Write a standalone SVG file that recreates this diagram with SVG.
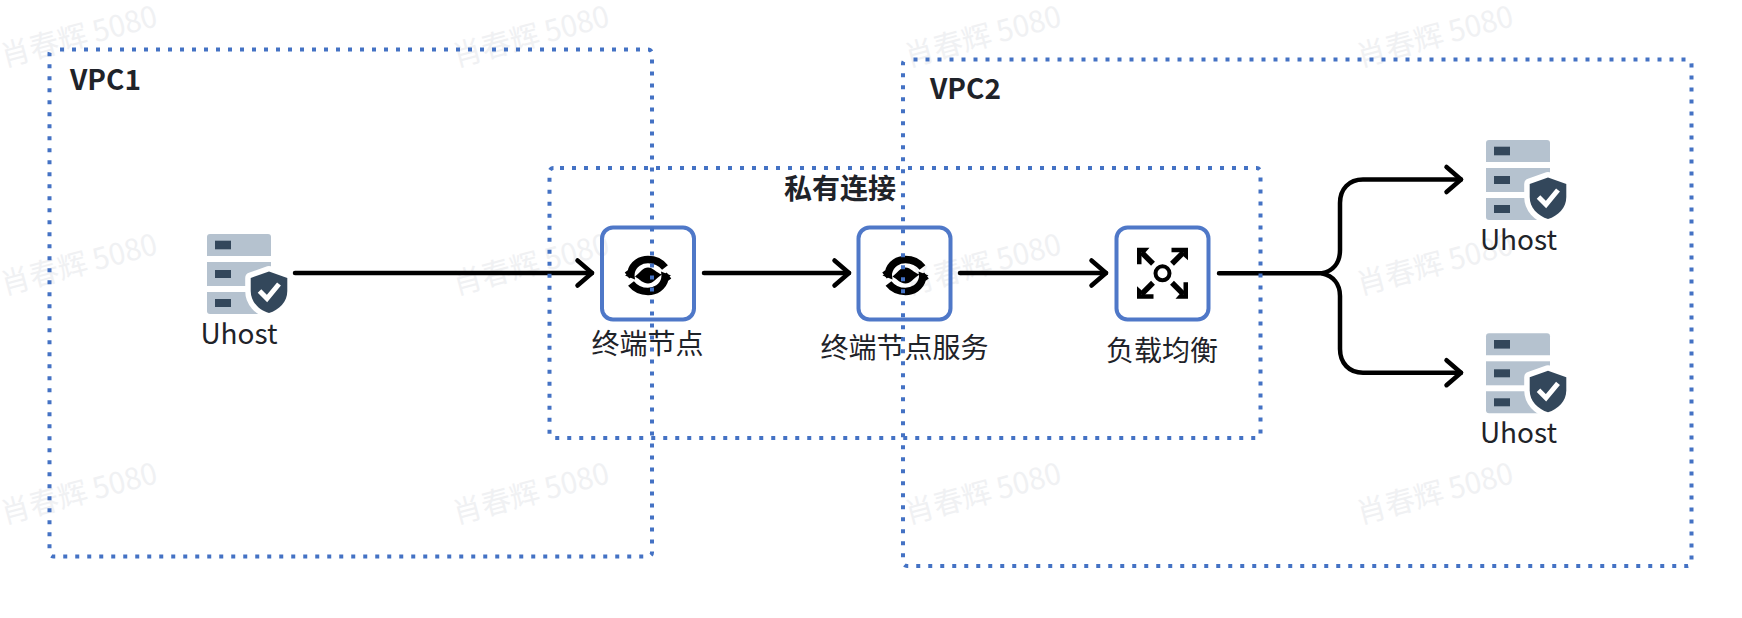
<svg xmlns="http://www.w3.org/2000/svg" width="1742" height="618" viewBox="0 0 1742 618">
<style>
text{font-family:"Noto Sans CJK SC","Noto Sans",sans-serif;fill:#1f2329;text-anchor:middle}
.b{font-weight:700}
.l{font-size:28px}
.vpc{text-anchor:start;font-size:28px;font-weight:700}
.wm{text-anchor:start;font-size:29.5px;fill:#f0f1f3}
.frame{fill:none;stroke:#4472c4;stroke-width:4;stroke-dasharray:4 8}
.box{fill:none;stroke:#4f78c8;stroke-width:4}
.c{fill:none;stroke:#000;stroke-width:4.500;stroke-linecap:round;stroke-linejoin:round}
.srv{fill:#b5c2cf}
.dk{fill:#33475b}
</style>
<defs>
<marker id="arrow" markerUnits="userSpaceOnUse" markerWidth="40" markerHeight="40" viewBox="-20 -20 40 40" refX="0" refY="0" orient="auto" overflow="visible">
<path d="M-14.500-12.500L0 0L-14.500 12.500" fill="none" stroke="#000" stroke-width="4.500" stroke-linecap="round" stroke-linejoin="round"/>
</marker>
<g id="server">
<path class="srv" d="M207 256V237a3 3 0 0 1 3-3h58a3 3 0 0 1 3 3v19z"/>
<rect class="srv" x="207" y="262" width="64" height="24"/>
<path class="srv" d="M207 292h64v22h-61a3 3 0 0 1-3-3z"/>
<rect class="dk" x="215" y="240.700" width="16" height="8.600"/>
<rect class="dk" x="215" y="270" width="16" height="8"/>
<rect class="dk" x="215" y="299" width="16" height="8"/>
<path fill="#fff" stroke="#fff" stroke-width="11" stroke-linejoin="round" d="M269 271.500L250.700 278V291C250.700 302 259 310 269 313C279 310 287.300 302 287.300 291V278z"/>
<path class="dk" d="M269 271.500L250.700 278V291C250.700 302 259 310 269 313C279 310 287.300 302 287.300 291V278z"/>
<path d="M259.500 291L267 298.500L279 284" fill="none" stroke="#fff" stroke-width="5"/>
</g>
<g id="sync">
<path d="M-21 0L-17 -3C-15 -12 -7 -16 0 -16C7 -16 13 -13 17 -8" fill="none" stroke="#000" stroke-width="7.500"/>
<path d="M21 0L17 3C15 12 7 16 0 16C-7 16 -13 13 -17 8" fill="none" stroke="#000" stroke-width="7.500"/>
<path d="M-23 0L-14 -5L-13 4z"/>
<path d="M23 0L14 5L13 -4z"/>
<path d="M-13 1C-8 -3 -5 -8 0 -8C5 -8 8 -3 14 -1C8 3 5 8 0 8C-5 8 -8 4 -13 1z"/>
</g>
<g id="lbArm">
<path d="M-25.500-25.500H-13L-17-21H-21V-9H-25.500z"/>
<path d="M-21-21L-9.500-9.500" stroke="#000" stroke-width="5.500" fill="none"/>
</g>
</defs>

<g id="watermarks">
<text class="wm" transform="translate(4 67) rotate(-15)">肖春辉 5080</text>
<text class="wm" transform="translate(456 67) rotate(-15)">肖春辉 5080</text>
<text class="wm" transform="translate(908 67) rotate(-15)">肖春辉 5080</text>
<text class="wm" transform="translate(1360 67) rotate(-15)">肖春辉 5080</text>
<text class="wm" transform="translate(4 295) rotate(-15)">肖春辉 5080</text>
<text class="wm" transform="translate(456 295) rotate(-15)">肖春辉 5080</text>
<text class="wm" transform="translate(908 295) rotate(-15)">肖春辉 5080</text>
<text class="wm" transform="translate(1360 295) rotate(-15)">肖春辉 5080</text>
<text class="wm" transform="translate(4 524) rotate(-15)">肖春辉 5080</text>
<text class="wm" transform="translate(456 524) rotate(-15)">肖春辉 5080</text>
<text class="wm" transform="translate(908 524) rotate(-15)">肖春辉 5080</text>
<text class="wm" transform="translate(1360 524) rotate(-15)">肖春辉 5080</text>
</g>

<g id="connectors">
<path class="c" d="M295 273H592" marker-end="url(#arrow)"/>
<path class="c" d="M704 273H849" marker-end="url(#arrow)"/>
<path class="c" d="M960 273H1106" marker-end="url(#arrow)"/>
<path class="c" d="M1219 273.300H1322C1333 271 1340 263 1340 250V203C1340 189 1349 179.500 1363 179.500H1461" marker-end="url(#arrow)"/>
<path class="c" d="M1322 273.300C1333 276 1340 284 1340 296V349C1340 363 1349 372.700 1363 372.700H1461" marker-end="url(#arrow)"/>
</g>

<g id="uhost1">
<use href="#server"/>
<text class="l" x="239" y="344">Uhost</text>
</g>
<g id="endpoint">
<rect class="box" x="602" y="227.500" width="92" height="92" rx="11"/>
<use href="#sync" transform="translate(648 275.500)"/>
<text class="l" x="647.500" y="353.500">终端节点</text>
</g>
<g id="endpoint-service">
<rect class="box" x="858.500" y="227.500" width="92" height="92" rx="11"/>
<use href="#sync" transform="translate(905.500 275.500)"/>
<text class="l" x="904.500" y="358">终端节点服务</text>
</g>
<g id="load-balancer">
<rect class="box" x="1116.500" y="227.500" width="92" height="92" rx="11"/>
<g transform="translate(1162.500 273.300)">
<circle r="7" fill="none" stroke="#000" stroke-width="4"/>
<use href="#lbArm"/>
<use href="#lbArm" transform="rotate(90)"/>
<use href="#lbArm" transform="rotate(180)"/>
<use href="#lbArm" transform="rotate(270)"/>
</g>
<text class="l" x="1162" y="360.500">负载均衡</text>
</g>
<g id="uhost2">
<use href="#server" transform="translate(1279 -94)"/>
<text class="l" x="1518.500" y="250">Uhost</text>
</g>
<g id="uhost3">
<use href="#server" transform="translate(1279 99.300)"/>
<text class="l" x="1518.500" y="443">Uhost</text>
</g>

<g id="vpc1">
<rect class="frame" x="49.500" y="49.500" width="602.500" height="507" rx="4" stroke-dashoffset="-6.500"/>
<text class="vpc" x="70" y="90">VPC1</text>
</g>
<g id="vpc2">
<rect class="frame" x="903" y="59.500" width="788.500" height="506.500" rx="4" stroke-dashoffset="-6.500"/>
<text class="vpc" x="930" y="99">VPC2</text>
</g>
<g id="private-link">
<rect class="frame" x="549.500" y="168" width="711" height="270" rx="4" stroke-dashoffset="-6.500"/>
<text class="b l" x="840" y="199">私有连接</text>
</g>
</svg>
